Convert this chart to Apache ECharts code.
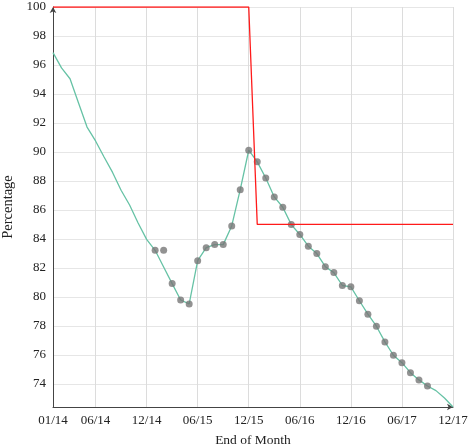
<!DOCTYPE html>
<html>
<head>
<meta charset="utf-8">
<script src="https://cdn.jsdelivr.net/npm/echarts@6/dist/echarts.min.js"></script>
<style>html,body{margin:0;padding:0;background:#fff}#c{width:472px;height:448px}</style>
</head>
<body>
<div id="c"></div>
<script>
var months = ['01/14','02/14','03/14','04/14','05/14','06/14','07/14','08/14','09/14','10/14','11/14','12/14',
  '01/15','02/15','03/15','04/15','05/15','06/15','07/15','08/15','09/15','10/15','11/15','12/15',
  '01/16','02/16','03/16','04/16','05/16','06/16','07/16','08/16','09/16','10/16','11/16','12/16',
  '01/17','02/17','03/17','04/17','05/17','06/17','07/17','08/17','09/17','10/17','11/17','12/17'];
var labelIndices = [0, 5, 11, 17, 23, 29, 35, 41, 47];
var yTicks = [74, 76, 78, 80, 82, 84, 86, 88, 90, 92, 94, 96, 98, 100];

var lineValues = [96.85, 95.8, 95.05, 93.38, 91.72, 90.76, 89.65, 88.59, 87.36, 86.34, 85.1, 83.97,
  83.22, 82.07, 80.92, 79.79, 79.52, 82.5, 83.4, 83.61, 83.61, 84.9, 87.4, 90.12,
  89.32, 88.21, 86.9, 86.19, 84.99, 84.31, 83.5, 82.99, 82.09, 81.68, 80.79, 80.7,
  79.74, 78.81, 77.98, 76.9, 75.98, 75.47, 74.78, 74.28, 73.86, 73.54, 73.03, 72.41];

var markerValues = [null, null, null, null, null, null, null, null, null, null, null, null,
  83.22, 83.22, 80.92, 79.79, 79.52, 82.5, 83.4, 83.61, 83.61, 84.9, 87.4, 90.12,
  89.32, 88.21, 86.9, 86.19, 84.99, 84.31, 83.5, 82.99, 82.09, 81.68, 80.79, 80.7,
  79.74, 78.81, 77.98, 76.9, 75.98, 75.47, 74.78, 74.28, 73.86, null, null, null];

var targetValues = [100, 100, 100, 100, 100, 100, 100, 100, 100, 100, 100, 100,
  100, 100, 100, 100, 100, 100, 100, 100, 100, 100, 100, 100,
  85, 85, 85, 85, 85, 85, 85, 85, 85, 85, 85, 85,
  85, 85, 85, 85, 85, 85, 85, 85, 85, 85, 85, 85];

var yMin = 72.41, yMax = 100;
var fontFam = '"Liberation Serif", "DejaVu Serif", serif';

var chart = echarts.init(document.getElementById('c'), null, {renderer: 'canvas'});
function isLabelIdx(i) { return labelIndices.indexOf(i) >= 0; }
chart.setOption({
  animation: false,
  backgroundColor: '#fff',
  grid: {left: 53, right: 19, top: 7, bottom: 41, containLabel: false, outerBoundsMode: 'none'},
  xAxis: {
    type: 'category',
    data: months,
    boundaryGap: false,
    name: 'End of Month',
    nameLocation: 'middle',
    nameGap: 26,
    nameTextStyle: {fontFamily: fontFam, fontSize: 13.5, color: '#222'},
    axisLine: {show: true, lineStyle: {color: '#444', width: 1}, symbol: ['none', 'arrow'], symbolSize: [5, 6]},
    axisTick: {show: false},
    axisLabel: {
      interval: function (i) { return isLabelIdx(i); },
      fontFamily: fontFam, fontSize: 13, color: '#222', margin: 7
    },
    splitLine: {show: true, interval: function (i) { return isLabelIdx(i) && i !== 0; }, lineStyle: {color: '#dcdcdc', width: 1}}
  },
  yAxis: {
    type: 'value',
    min: yMin,
    max: yMax,
    splitNumber: 14,
    name: 'Percentage',
    nameLocation: 'middle',
    nameGap: 34,
    nameTextStyle: {fontFamily: fontFam, fontSize: 14.5, color: '#222'},
    axisLine: {show: true, lineStyle: {color: '#444', width: 1}, symbol: ['none', 'arrow'], symbolSize: [5, 6]},
    axisTick: {show: false},
    axisLabel: {
      fontFamily: fontFam, fontSize: 13, color: '#222', margin: 7,
      formatter: function (v) {
        var r = Math.round(v);
        return (Math.abs(v - r) < 1e-6 && yTicks.indexOf(r) >= 0) ? String(r) : '';
      }
    },
    splitLine: {show: true, lineStyle: {color: '#e6e6e6', width: 1}}
  },
  series: [
    {
      type: 'line',
      data: lineValues,
      showSymbol: false,
      symbol: 'none',
      lineStyle: {color: '#66c2a5', width: 1.3},
      z: 2
    },
    {
      type: 'scatter',
      data: markerValues,
      symbol: 'circle',
      symbolSize: 7,
      itemStyle: {color: '#777777'},
      z: 3
    },
    {
      type: 'line',
      data: targetValues,
      showSymbol: false,
      symbol: 'none',
      lineStyle: {color: '#ff1a1a', width: 1.3},
      z: 4
    }
  ]
});
</script>
</body>
</html>
